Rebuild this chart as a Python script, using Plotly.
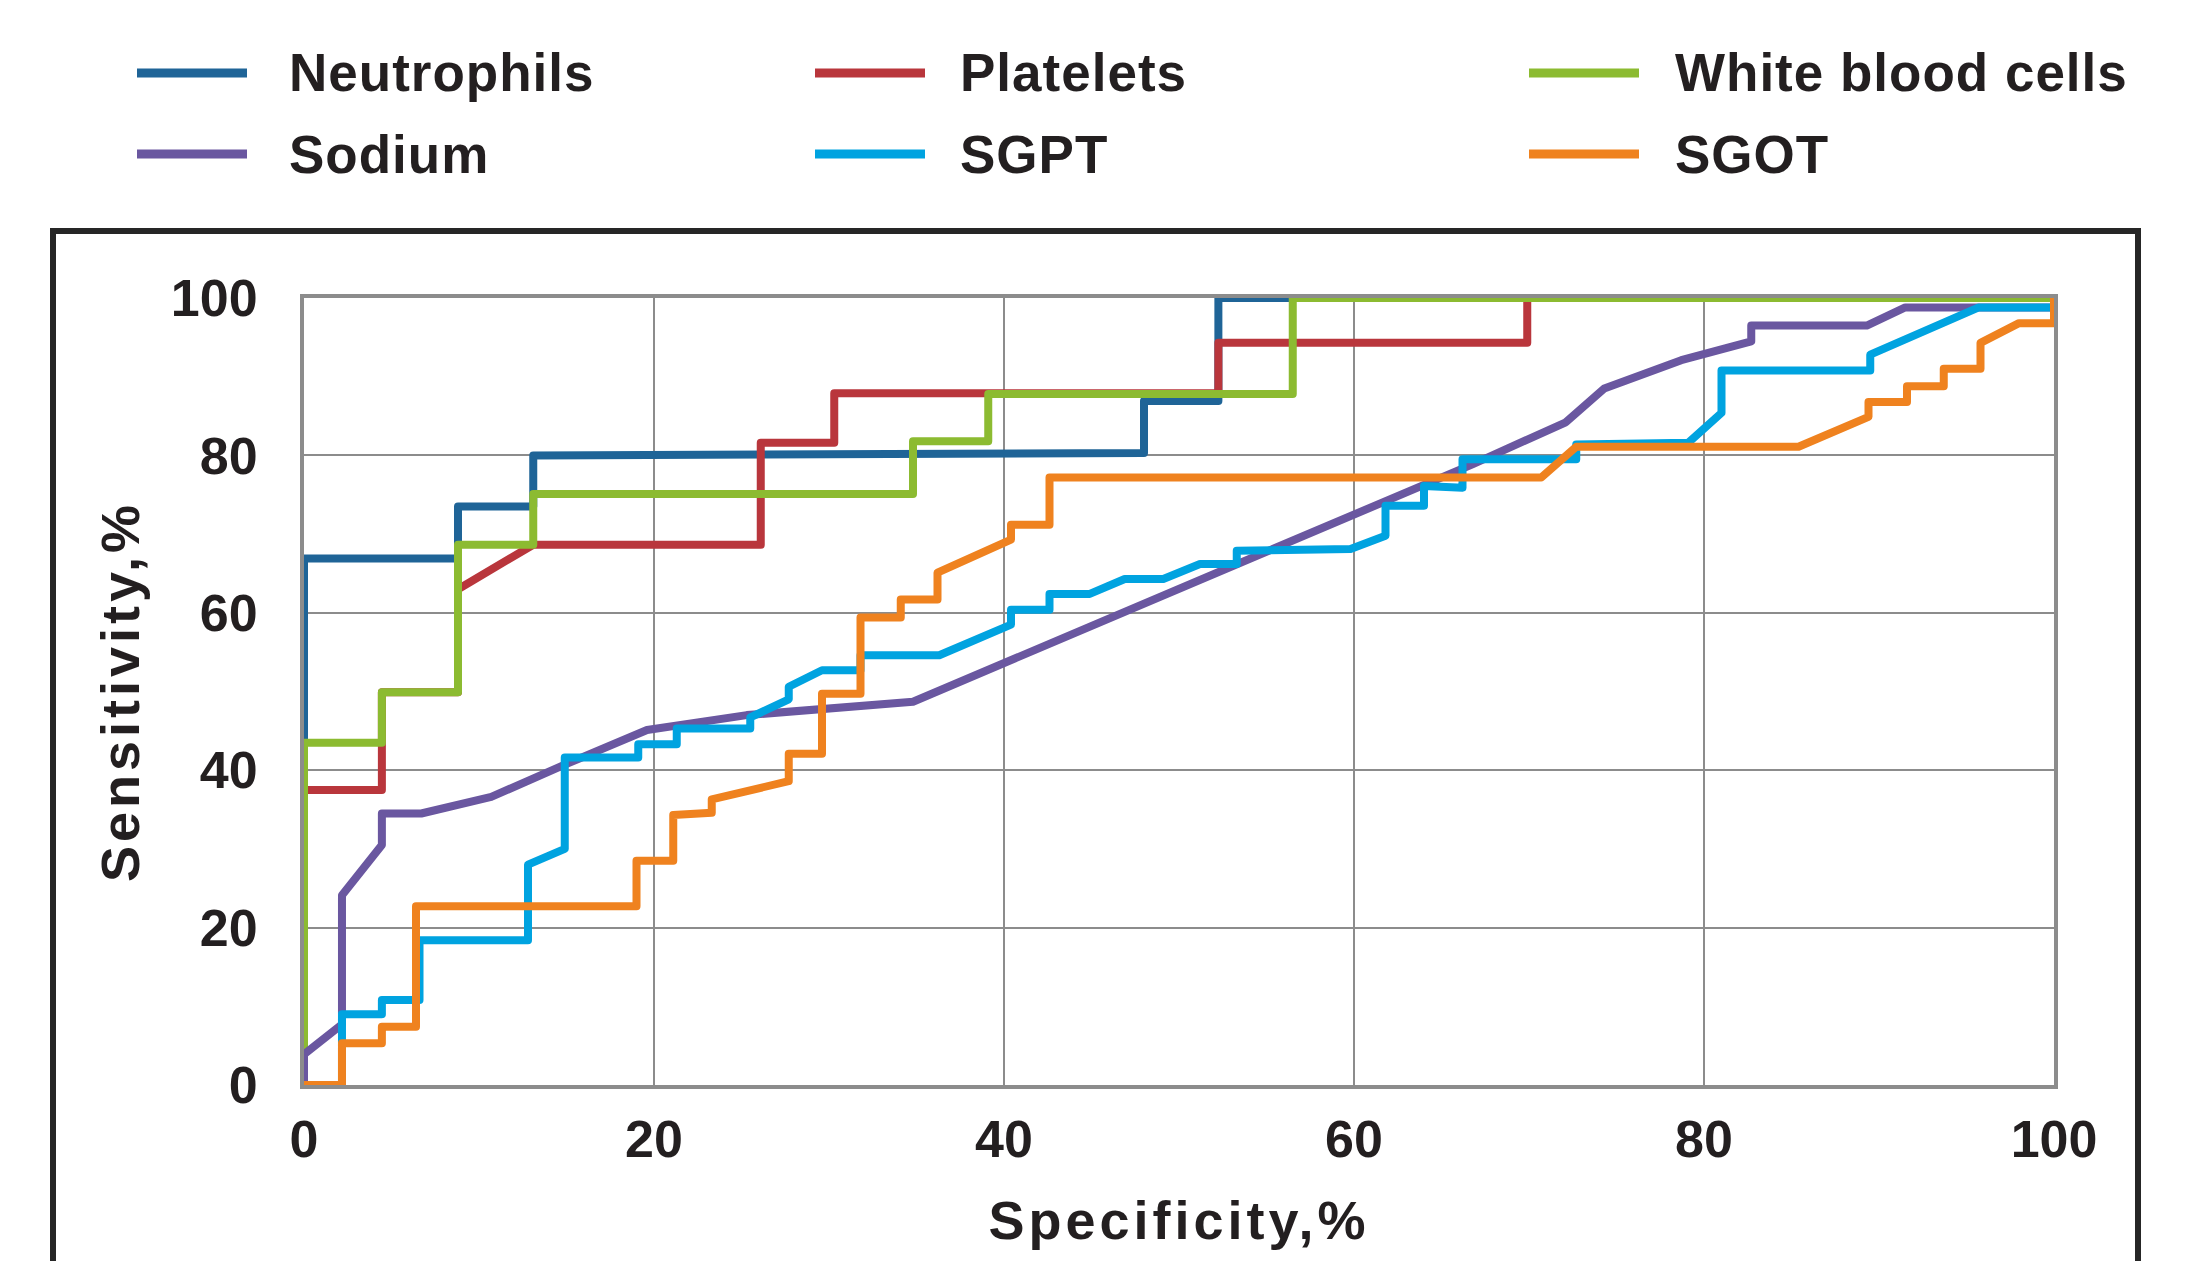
import plotly.graph_objects as go

# ---------------- data ----------------
series_names = ["Neutrophils", "Platelets", "White blood cells", "Sodium", "SGPT", "SGOT"]

neutrophils_x = [0, 0, 8.8, 8.8, 13.1, 13.1, 48.0, 48.0, 52.25, 52.25, 100]
neutrophils_y = [0, 66.9, 66.9, 73.5, 73.5, 80.0, 80.3, 86.9, 86.9, 100, 100]

platelets_x = [0, 0, 4.45, 4.45, 8.8, 8.8, 13.1, 26.1, 26.1, 30.3, 30.3, 52.25, 52.25, 69.9, 69.9, 100]
platelets_y = [0, 37.5, 37.5, 49.9, 49.9, 63.0, 68.65, 68.65, 81.6, 81.6, 87.9, 87.9, 94.3, 94.3, 100, 100]

wbc_x = [0, 0, 4.45, 4.45, 8.8, 8.8, 13.1, 13.1, 34.8, 34.8, 39.1, 39.1, 56.5, 56.5, 100]
wbc_y = [0, 43.5, 43.5, 49.9, 49.9, 68.65, 68.65, 75.1, 75.1, 81.8, 81.8, 87.8, 87.8, 100, 100]

sodium_x = [0, 0, 2.17, 2.17, 4.45, 4.45, 6.7, 10.7, 14.9, 19.6, 25.3, 34.8, 66.8, 72.1,
            74.3, 78.7, 82.7, 82.7, 89.3, 91.5, 95.5, 100]
sodium_y = [0, 3.9, 7.7, 24.1, 30.5, 34.5, 34.5, 36.6, 40.7, 45.1, 47.0, 48.7, 78.9, 84.2,
            88.5, 92.1, 94.5, 96.5, 96.5, 98.8, 98.8, 98.8]

sgpt_x = [0, 2.17, 2.17, 4.45, 4.45, 6.6, 6.6, 12.8, 12.8, 14.9, 14.9, 19.1, 19.1, 21.3, 21.3,
          25.5, 25.5, 27.7, 27.7, 29.6, 31.8, 31.8, 36.3, 40.4, 40.4, 42.6, 42.6, 44.9, 46.9,
          49.1, 51.2, 53.3, 53.3, 59.8, 61.8, 61.8, 64.0, 64.0, 66.2, 66.2, 72.7, 72.7, 79.1,
          81.0, 81.0, 89.5, 89.5, 95.7, 100]
sgpt_y = [0, 0, 9.0, 9.0, 10.8, 10.8, 18.4, 18.4, 28.0, 30.0, 41.6, 41.6, 43.3, 43.3, 45.3,
          45.3, 46.7, 49.0, 50.6, 52.7, 52.7, 54.6, 54.6, 58.5, 60.4, 60.4, 62.4, 62.4, 64.3,
          64.3, 66.2, 66.2, 67.9, 68.1, 69.8, 73.6, 73.6, 76.1, 75.9, 79.5, 79.5, 81.4, 81.6,
          85.4, 90.8, 90.8, 92.8, 98.8, 98.8]

sgot_x = [0, 2.17, 2.17, 4.45, 4.45, 6.4, 6.4, 19.0, 19.0, 21.1, 21.1, 23.3, 23.3, 27.7, 27.7,
          29.6, 29.6, 31.8, 31.8, 34.1, 34.1, 36.2, 36.2, 40.4, 40.4, 42.6, 42.6, 70.7, 72.7,
          85.4, 89.4, 89.4, 91.6, 91.6, 93.7, 93.7, 95.8, 95.8, 98.0, 100, 100]
sgot_y = [0, 0, 5.3, 5.3, 7.4, 7.4, 22.7, 22.7, 28.5, 28.5, 34.3, 34.6, 36.3, 38.6, 42.1,
          42.1, 49.7, 49.7, 59.4, 59.4, 61.7, 61.7, 65.1, 69.3, 71.2, 71.2, 77.2, 77.2, 81.1,
          81.1, 84.9, 86.8, 86.8, 88.8, 88.8, 91.0, 91.0, 94.3, 96.8, 96.8, 100]

tick_values = [0, 20, 40, 60, 80, 100]
tick_labels = ["0", "20", "40", "60", "80", "100"]

x_title = "Specificity,%"
y_title = "Sensitivity,%"

# ---------------- styling ----------------
colors = ["#1F6497", "#B9363C", "#8CBB31", "#6A57A0", "#00A3E0", "#EF821F"]
FONT = "Liberation Sans, Arial, Helvetica, sans-serif"
TXT = "#231F20"
GRID = "#8C8C8C"

W, H = 2197, 1261
L, R, T, B = 304, 2197 - 2054, 298, 1261 - 1085
PW, PH = W - L - R, H - T - B


def px2paper_x(px):
    return (px - L) / PW


def px2paper_y(py):
    return (H - B - py) / PH


xs = [neutrophils_x, platelets_x, wbc_x, sodium_x, sgpt_x, sgot_x]
ys = [neutrophils_y, platelets_y, wbc_y, sodium_y, sgpt_y, sgot_y]

fig = go.Figure()
for name, x, y, c in zip(series_names, xs, ys, colors):
    fig.add_trace(go.Scatter(x=x, y=y, mode="lines", name=name,
                             line=dict(color=c, width=8), cliponaxis=False,
                             showlegend=False))

# custom legend (3 columns x 2 rows) drawn like the reference
leg_line_x0 = [137, 815, 1529]
leg_text_x = [287, 958, 1673]
leg_row_y = [73, 154]
shapes = []
annotations = []
for i, (name, c) in enumerate(zip(series_names, colors)):
    col, row = i % 3, i // 3
    yy = px2paper_y(leg_row_y[row])
    shapes.append(dict(type="line", xref="paper", yref="paper",
                       x0=px2paper_x(leg_line_x0[col]), x1=px2paper_x(leg_line_x0[col] + 110),
                       y0=yy, y1=yy, line=dict(color=c, width=9)))
    annotations.append(dict(xref="paper", yref="paper", x=px2paper_x(leg_text_x[col]), y=yy,
                            xanchor="left", yanchor="middle", showarrow=False,
                            text="<span style='letter-spacing:1px'>" + name + "</span>",
                            font=dict(family=FONT, size=53, color=TXT, weight="bold")))

# outer black frame (extends below the bottom of the image)
shapes.append(dict(type="rect", xref="paper", yref="paper", layer="below",
                   x0=px2paper_x(53), x1=px2paper_x(2138),
                   y0=px2paper_y(1300), y1=px2paper_y(231),
                   line=dict(color="#262626", width=6), fillcolor="rgba(0,0,0,0)"))

axis_common = dict(
    range=[0, 100], tickmode="array", tickvals=tick_values, ticktext=tick_labels,
    showgrid=True, gridcolor=GRID, gridwidth=2, zeroline=False,
    showline=True, linecolor=GRID, linewidth=4, mirror=True, layer="below traces",
    ticks="", automargin=False,
    tickfont=dict(family=FONT, size=52, color=TXT, weight="bold"),
)

fig.update_layout(
    width=W, height=H, margin=dict(l=L, r=R, t=T, b=B, pad=0),
    paper_bgcolor="white", plot_bgcolor="white",
    shapes=shapes, annotations=annotations, showlegend=False,
    xaxis=dict(**axis_common, ticklabelstandoff=6,
               title=dict(text="<span style='letter-spacing:4px'>" + x_title + "</span>",
                          font=dict(family=FONT, size=54, color=TXT, weight="bold"),
                          standoff=35)),
    yaxis=dict(**axis_common, ticklabelstandoff=32,
               title=dict(text="<span style='letter-spacing:4px'>" + y_title + "</span>",
                          font=dict(family=FONT, size=54, color=TXT, weight="bold"),
                          standoff=15)),
)

post = ("document.body.style.margin='0';document.body.style.overflow='hidden';"
        "var s=document.createElement('style');"
        "s.textContent='.scatterlayer path.js-line{stroke-linejoin:round;stroke-linecap:round;}';"
        "document.head.appendChild(s);")

fig.write_html("out.html", config={"displayModeBar": False, "responsive": False},
               post_script=post)
